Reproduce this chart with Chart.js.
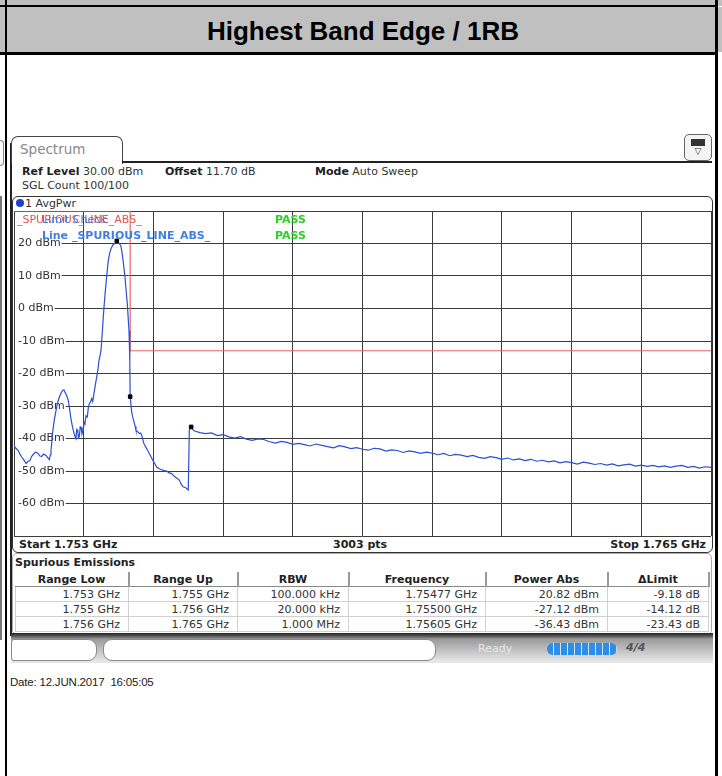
<!DOCTYPE html>
<html>
<head>
<meta charset="utf-8">
<script src="https://cdn.jsdelivr.net/npm/chart.js@4.4.0/dist/chart.umd.min.js"></script>
<style>
  body { margin: 0; width: 722px; height: 776px; position: relative; overflow: hidden; background: #fff; font-family: "DejaVu Sans", sans-serif; color: #333; }
  .a { position: absolute; }
  .band { background: #c0c0c0; }
  .blk { background: #000; }
  .hdr { font-size: 11px; white-space: nowrap; }
  .hdr b { color: #222; }
  #spurTable { position: absolute; left: 15px; top: 572px; width: 693px; border-collapse: collapse; font-size: 11px; table-layout: fixed; }
  #spurTable th { height: 14px; padding: 0; font-weight: bold; color: #222; border-bottom: 1px solid #888; border-right: 2px solid #999; background: #fff; overflow: hidden; white-space: nowrap; }
  #spurTable td { height: 14px; padding: 0 8px 0 0; text-align: right; border: 1px solid #d0d0d0; color: #333; overflow: hidden; white-space: nowrap; }
</style>
</head>
<body>
<!-- report frame -->
<div class="a band" style="left:0;top:0;width:722px;height:6px"></div>
<div class="a blk" style="left:0;top:5px;width:718px;height:2px"></div>
<div class="a band" style="left:0;top:7px;width:722px;height:45px"></div>
<div class="a blk" style="left:0;top:52px;width:718px;height:3px"></div>
<div class="a blk" style="left:5px;top:0;width:2px;height:776px"></div>
<div class="a blk" style="left:715px;top:0;width:3px;height:776px"></div>
<div class="a" style="left:7px;top:16px;width:712px;text-align:center;font:bold 26px 'Liberation Sans',Arial,sans-serif;color:#000">Highest Band Edge / 1RB</div>
<div class="a" style="left:0;top:140px;width:3px;height:24px;border:1px solid #888;border-left:none;border-radius:0 4px 4px 0"></div>
<div class="a" style="left:0;top:196px;width:2px;height:444px;background:#777"></div>

<!-- instrument screen -->
<div class="a" style="left:10px;top:143px;width:2px;height:493px;background:#222"></div>
<div class="a" style="left:11px;top:136px;width:110px;height:27px;border:1px solid #444;border-bottom:none;border-radius:7px 7px 0 0;background:#fff"></div>
<div class="a" style="left:20px;top:141px;font-size:13.5px;color:#888">Spectrum</div>
<div class="a" style="left:122px;top:161px;width:590px;height:2px;background:#222"></div>
<div class="a" style="left:684px;top:134px;width:26px;height:25px;border:1px solid #666;border-radius:5px;background:#f4f4f4;font-size:9px;text-align:center;line-height:10px;color:#333">
  <div style="margin:4px auto 0;width:12px;height:5px;background:#333;border:1px solid #333"></div>▽</div>

<div class="a hdr" style="left:22px;top:165px"><b>Ref Level</b> 30.00 dBm</div>
<div class="a hdr" style="left:165px;top:165px"><b>Offset</b> 11.70 dB</div>
<div class="a hdr" style="left:315px;top:165px"><b>Mode</b> Auto Sweep</div>
<div class="a hdr" style="left:22px;top:179px">SGL Count 100/100</div>

<!-- trace panel -->
<div class="a" style="left:12px;top:196px;width:701px;height:357px;box-sizing:border-box;border:1.5px solid #333;border-radius:6px;background:#fff"></div>
<div class="a" style="left:16px;top:199px;width:8px;height:8px;border-radius:50%;background:#1d3fd6"></div>
<div class="a hdr" style="left:25px;top:197px">1 AvgPwr</div>
<canvas id="spec" class="a" width="699" height="327" style="left:13px;top:210px"></canvas>
<div class="a hdr" style="left:17px;top:213px;color:#e0574c">_SPURIOUS_LINE_ABS_</div>
<div class="a hdr" style="left:42px;top:213px;color:#3f7fe0">Limit Check</div>
<div class="a hdr" style="left:275px;top:213px;color:#2ccf2c;font-weight:bold">PASS</div>
<div class="a hdr" style="left:42px;top:229px;color:#3f7fe0;font-weight:bold">Line _SPURIOUS_LINE_ABS_</div>
<div class="a hdr" style="left:275px;top:229px;color:#2ccf2c;font-weight:bold">PASS</div>
<div class="a hdr" style="left:19px;top:538px;font-weight:bold;color:#222">Start 1.753 GHz</div>
<div class="a hdr" style="left:333px;top:538px;font-weight:bold;color:#222">3003 pts</div>
<div class="a hdr" style="left:560px;top:538px;width:146px;text-align:right;font-weight:bold;color:#222">Stop 1.765 GHz</div>

<!-- result table panel -->
<div class="a" style="left:12px;top:553px;width:700px;height:82px;box-sizing:border-box;border:1px solid #aaa;border-radius:5px;background:#fff"></div>
<div class="a hdr" style="left:15px;top:556px;font-weight:bold;color:#222">Spurious Emissions</div>
<table id="spurTable"><colgroup id="spurCols"></colgroup><thead><tr id="spurHead"></tr></thead><tbody id="spurBody"></tbody></table>

<!-- status bar -->
<div class="a" style="left:11px;top:633px;width:702px;height:30px;background:linear-gradient(#222 0,#555 3px,#9a9a9a 6px,#e6e6e6 28px)"></div>
<div class="a" style="left:11px;top:639px;width:86px;height:22px;box-sizing:border-box;border:1px solid #888;border-radius:3px 9px 9px 3px;background:#fff"></div>
<div class="a" style="left:103px;top:639px;width:333px;height:22px;box-sizing:border-box;border:1px solid #888;border-radius:9px;background:#fff"></div>
<div class="a" style="left:478px;top:642px;font-size:11px;color:#e8e8e8">Ready</div>
<div class="a" style="left:547px;top:643px;width:70px;height:12px;border-radius:6px;background:repeating-linear-gradient(90deg,#2e8ee6 0,#2e8ee6 6px,#cfe4f7 6px,#cfe4f7 7px)"></div>
<div class="a" style="left:626px;top:641px;font-size:11px;font-weight:bold;font-style:italic;color:#555">4/4</div>

<div class="a" style="left:10px;top:676px;font:11.5px 'Liberation Sans',Arial,sans-serif;color:#222;letter-spacing:-0.2px">Date: 12.JUN.2017&nbsp; 16:05:05</div>

<script>
// sweep 1.753 .. 1.765 GHz, values in MHz
const xGrid = [1753, 1754.2, 1755.4, 1756.6, 1757.8, 1759, 1760.2, 1761.4, 1762.6, 1763.8, 1765];
const yGrid = [30, 20, 10, 0, -10, -20, -30, -40, -50, -60, -70];
const yLabels = [20, 10, 0, -10, -20, -30, -40, -50, -60];

const traceMHz = [
  1753.000, 1753.030, 1753.074, 1753.105, 1753.133, 1753.170, 1753.207, 1753.240, 1753.275, 1753.300,
  1753.327, 1753.370, 1753.413, 1753.445, 1753.477, 1753.510, 1753.551, 1753.580, 1753.608, 1753.625,
  1753.637, 1753.666, 1753.695, 1753.723, 1753.750, 1753.780, 1753.810, 1753.838, 1753.860, 1753.878,
  1753.905, 1753.935, 1753.955, 1753.976, 1754.000, 1754.021, 1754.045, 1754.067, 1754.080, 1754.097,
  1754.110, 1754.124, 1754.140, 1754.154, 1754.170, 1754.193, 1754.208, 1754.222, 1754.240, 1754.262,
  1754.280, 1754.296, 1754.315, 1754.338, 1754.355, 1754.377, 1754.400, 1754.424, 1754.445, 1754.463,
  1754.480, 1754.498, 1754.520, 1754.537, 1754.560, 1754.584, 1754.605, 1754.624, 1754.645, 1754.670,
  1754.700, 1754.727, 1754.770, 1754.800, 1754.837, 1754.855, 1754.871, 1754.890, 1754.911, 1754.930,
  1754.951, 1754.965, 1754.980, 1754.990, 1754.997, 1755.000, 1755.026, 1755.045, 1755.066, 1755.085,
  1755.100, 1755.130, 1755.157, 1755.180, 1755.199, 1755.220, 1755.238, 1755.275, 1755.312, 1755.350,
  1755.388, 1755.420, 1755.457, 1755.500, 1755.543, 1755.585, 1755.629, 1755.670, 1755.715, 1755.745,
  1755.772, 1755.810, 1755.846, 1755.875, 1755.905, 1755.935, 1755.961, 1755.985, 1756.001, 1756.018,
  1756.050, 1756.075,
  1756.1, 1756.2, 1756.3, 1756.4, 1756.5, 1756.6, 1756.7, 1756.8, 1756.9, 1757.0,
  1757.1, 1757.2, 1757.3, 1757.4, 1757.5, 1757.6, 1757.7, 1757.8, 1757.9, 1758.0,
  1758.1, 1758.2, 1758.3, 1758.4, 1758.5, 1758.6, 1758.7, 1758.8, 1758.9, 1759.0,
  1759.1, 1759.2, 1759.3, 1759.4, 1759.5, 1759.6, 1759.7, 1759.8, 1759.9, 1760.0,
  1760.1, 1760.2, 1760.3, 1760.4, 1760.5, 1760.6, 1760.7, 1760.8, 1760.9, 1761.0,
  1761.1, 1761.2, 1761.3, 1761.4, 1761.5, 1761.6, 1761.7, 1761.8, 1761.9, 1762.0,
  1762.1, 1762.2, 1762.3, 1762.4, 1762.5, 1762.6, 1762.7, 1762.8, 1762.9, 1763.0,
  1763.1, 1763.2, 1763.3, 1763.4, 1763.5, 1763.6, 1763.7, 1763.8, 1763.9, 1764.0,
  1764.1, 1764.2, 1764.3, 1764.4, 1764.5, 1764.6, 1764.7, 1764.8, 1764.9, 1765.0
];
const traceDbm = [
  -42.2, -43.0, -43.7, -44.9, -45.7, -46.6, -47.7, -47.1, -46.8, -45.6,
  -45.0, -44.2, -44.5, -45.4, -45.5, -44.8, -45.2, -45.9, -46.5, -45.0,
  -43.7, -38.0, -34.2, -31.4, -29.0, -27.3, -26.0, -25.2, -25.0, -25.8,
  -26.7, -28.3, -30.6, -33.4, -35.8, -37.5, -39.1, -40.0, -37.2, -37.5,
  -39.8, -39.5, -36.4, -36.5, -38.6, -37.5, -35.0, -35.4, -33.0, -33.4,
  -30.5, -29.3, -28.8, -27.7, -28.6, -26.2, -23.5, -21.1, -18.8, -16.0,
  -14.6, -12.9, -7.5, -2.7, 2.8, 7.6, 11.6, 14.8, 16.9, 18.4,
  19.5, 19.9, 20.8, 20.2, 19.4, 17.8, 15.8, 13.0, 9.6, 5.6,
  1.4, -2.6, -6.8, -11.5, -16.0, -27.1, -31.9, -33.5, -34.9, -36.2,
  -37.5, -37.9, -38.5, -38.3, -39.0, -40.4, -41.6, -42.8, -44.1, -45.3,
  -46.7, -47.6, -48.8, -49.3, -49.6, -49.9, -50.0, -50.6, -50.8, -51.4,
  -51.8, -52.3, -52.8, -53.9, -54.8, -55.0, -55.2, -55.6, -55.8, -37.5,
  -36.4, -37.2,
  -37.6, -38.2, -38.5, -38.3, -39.1, -38.8, -39.5, -39.9, -39.4, -40.2,
  -40.6, -40.1, -40.3, -41.0, -41.4, -40.9, -41.2, -41.8, -41.5, -41.9,
  -42.3, -41.7, -42.1, -42.5, -42.9, -42.2, -42.6, -43.1, -42.8, -43.3,
  -43.6, -43.0, -43.2, -43.9, -43.5, -43.7, -44.3, -43.8, -44.1, -44.6,
  -44.2, -44.5, -45.0, -44.6, -45.3, -44.9, -45.1, -45.6, -45.2, -45.8,
  -46.1, -45.6, -45.9, -46.4, -46.0, -46.6, -46.3, -46.8, -46.4, -47.0,
  -46.7, -47.2, -46.9, -47.5, -47.1, -47.4, -47.9, -47.3, -47.6, -48.0,
  -47.7, -48.2, -47.8, -48.4, -48.1, -47.9, -48.5, -48.2, -48.6, -48.3,
  -48.7, -48.4, -48.9, -48.5, -48.3, -48.9, -48.6, -49.1, -48.7, -48.9
];

const limitMHz = [1753, 1755, 1755, 1765];
const limitDbm = [30, 30, -13, -13];

const markerMHz = [1754.77, 1755.00, 1756.05];

const tableHeads = ["Range Low", "Range Up", "RBW", "Frequency", "Power Abs", "\u0394Limit"];
const colWidths = [113, 109, 111, 137, 122, 101];
const rangeLow = ["1.753 GHz", "1.755 GHz", "1.756 GHz"];
const rangeUp = ["1.755 GHz", "1.756 GHz", "1.765 GHz"];
const rbw = ["100.000 kHz", "20.000 kHz", "1.000 MHz"];
const peakFreq = ["1.75477 GHz", "1.75500 GHz", "1.75605 GHz"];
const powerAbs = [20.82, -27.12, -36.43];
const deltaLimit = [-9.18, -14.12, -23.43];

// result table
const cols = document.getElementById("spurCols");
const head = document.getElementById("spurHead");
tableHeads.forEach((h, i) => {
  const col = document.createElement("col");
  col.style.width = colWidths[i] + "px";
  cols.appendChild(col);
  const th = document.createElement("th");
  th.textContent = h;
  head.appendChild(th);
});
const body = document.getElementById("spurBody");
rangeLow.forEach((lo, i) => {
  const row = document.createElement("tr");
  row.innerHTML = `
    <td>${lo}</td>
    <td>${rangeUp[i]}</td>
    <td>${rbw[i]}</td>
    <td>${peakFreq[i]}</td>
    <td>${powerAbs[i].toFixed(2)} dBm</td>
    <td>${deltaLimit[i].toFixed(2)} dB</td>
  `;
  body.appendChild(row);
});

// level labels sit inside the grid on a white patch
const dbmLabels = {
  id: "dbmLabels",
  beforeDatasetsDraw(chart) {
    const { ctx, chartArea, scales } = chart;
    ctx.save();
    ctx.font = "11px 'DejaVu Sans'";
    ctx.textBaseline = "middle";
    yLabels.forEach(v => {
      const py = scales.y.getPixelForValue(v);
      const txt = v + " dBm";
      const w = ctx.measureText(txt).width;
      ctx.fillStyle = "#fff";
      ctx.fillRect(chartArea.left + 1, py - 6, w + 4, 12);
      ctx.fillStyle = "#333";
      ctx.fillText(txt, chartArea.left + 4, py);
    });
    ctx.restore();
  }
};

new Chart(document.getElementById("spec"), {
  type: "line",
  data: {
    datasets: [
      {
        label: "Markers",
        data: markerMHz.map((f, i) => ({ x: f, y: powerAbs[i] })),
        showLine: false,
        pointStyle: "rect",
        pointRadius: 2.5,
        backgroundColor: "#000",
        borderColor: "#000",
        order: 0
      },
      {
        label: "1 AvgPwr",
        data: traceMHz.map((f, i) => ({ x: f, y: traceDbm[i] })),
        borderColor: "#2c4fd0",
        borderWidth: 1.2,
        pointRadius: 0,
        order: 1
      },
      {
        label: "_SPURIOUS_LINE_ABS_",
        data: limitMHz.map((f, i) => ({ x: f, y: limitDbm[i] })),
        borderColor: "#e36a66",
        borderWidth: 1.2,
        pointRadius: 0,
        order: 2
      }
    ]
  },
  options: {
    responsive: false,
    animation: false,
    devicePixelRatio: 1,
    layout: { padding: 1, autoPadding: false },
    plugins: { legend: { display: false }, tooltip: { enabled: false } },
    scales: {
      x: {
        type: "linear", min: 1753, max: 1765,
        afterBuildTicks: s => { s.ticks = xGrid.map(v => ({ value: v })); },
        ticks: { display: false },
        grid: { color: "#3c3c3c", drawTicks: false },
        border: { display: false }
      },
      y: {
        min: -70, max: 30,
        afterBuildTicks: s => { s.ticks = yGrid.map(v => ({ value: v })); },
        ticks: { display: false },
        grid: { color: "#3c3c3c", drawTicks: false },
        border: { display: false }
      }
    }
  },
  plugins: [dbmLabels]
});
</script>
</body>
</html>
